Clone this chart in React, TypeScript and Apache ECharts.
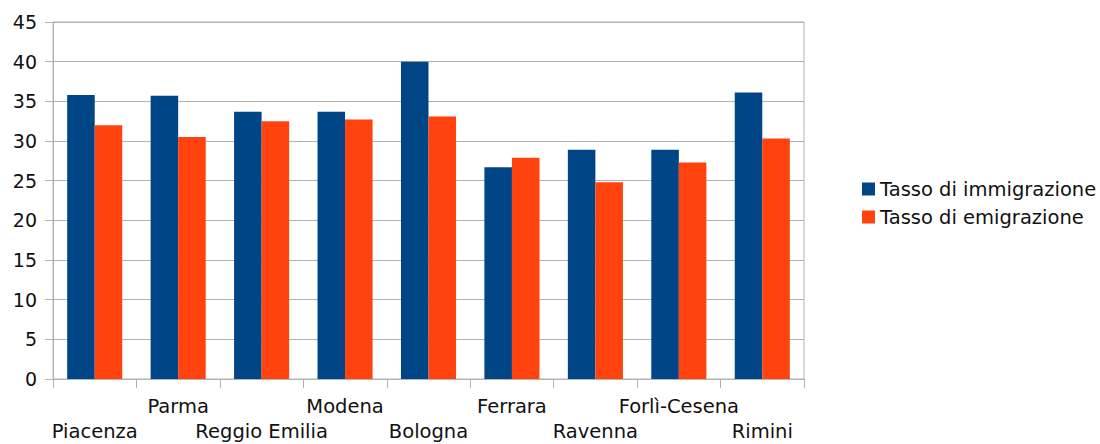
import React, { useEffect, useRef } from "react";
import * as echarts from "echarts";

const categories = ["Piacenza", "Parma", "Reggio Emilia", "Modena", "Bologna", "Ferrara", "Ravenna", "Forlì-Cesena", "Rimini"];
const immigrazione = [35.8, 35.7, 33.7, 33.7, 40.0, 26.7, 28.9, 28.9, 36.1];
const emigrazione = [32.0, 30.5, 32.5, 32.7, 33.1, 27.9, 24.8, 27.3, 30.3];
const seriesNames = ["Tasso di immigrazione", "Tasso di emigrazione"];

const FONT = "DejaVu Sans";

export default function App() {
  const ref = useRef<HTMLDivElement>(null);
  useEffect(() => {
    const chart = echarts.init(ref.current!, null, { renderer: "svg" });
    chart.setOption({
      animation: false,
      backgroundColor: "#ffffff",
      grid: { left: 53, right: 296, top: 22, bottom: 60, show: true, borderColor: "#b3b3b3", borderWidth: 1 },
      legend: {
        orient: "vertical",
        left: 857,
        top: 174,
        icon: "rect",
        itemWidth: 13,
        itemHeight: 13,
        itemGap: 8,
        textStyle: { fontFamily: FONT, fontSize: 19.5, color: "#111", lineHeight: 20 },
        data: seriesNames,
      },
      xAxis: {
        type: "category",
        data: categories,
        axisLine: { lineStyle: { color: "#b3b3b3", width: 1 } },
        axisTick: { show: true, length: 9, lineStyle: { color: "#b3b3b3" } },
        axisLabel: {
          interval: 0,
          margin: 15,
          fontFamily: FONT,
          fontSize: 19.5,
          color: "#111",
          lineHeight: 25,
          formatter: (v: string, i: number) => (i % 2 === 0 ? "\n" + v : v),
        },
      },
      yAxis: {
        type: "value",
        min: 0,
        max: 45,
        interval: 5,
        axisLine: { show: true, lineStyle: { color: "#b3b3b3", width: 1 } },
        axisTick: { show: true, length: 8, lineStyle: { color: "#b3b3b3" } },
        splitLine: { lineStyle: { color: "#b3b3b3", width: 1 } },
        axisLabel: { fontFamily: FONT, fontSize: 19, color: "#111", margin: 16 },
      },
      series: [
        {
          name: seriesNames[0],
          type: "bar",
          data: immigrazione,
          itemStyle: { color: "#004586" },
          barGap: "0%",
          barCategoryGap: "34%",
        },
        {
          name: seriesNames[1],
          type: "bar",
          data: emigrazione,
          itemStyle: { color: "#ff420e" },
          barGap: "0%",
          barCategoryGap: "34%",
        },
      ],
    });
    return () => chart.dispose();
  }, []);
  return <div ref={ref} style={{ position: "fixed", left: 0, top: 0, width: 1100, height: 444 }} />;
}
